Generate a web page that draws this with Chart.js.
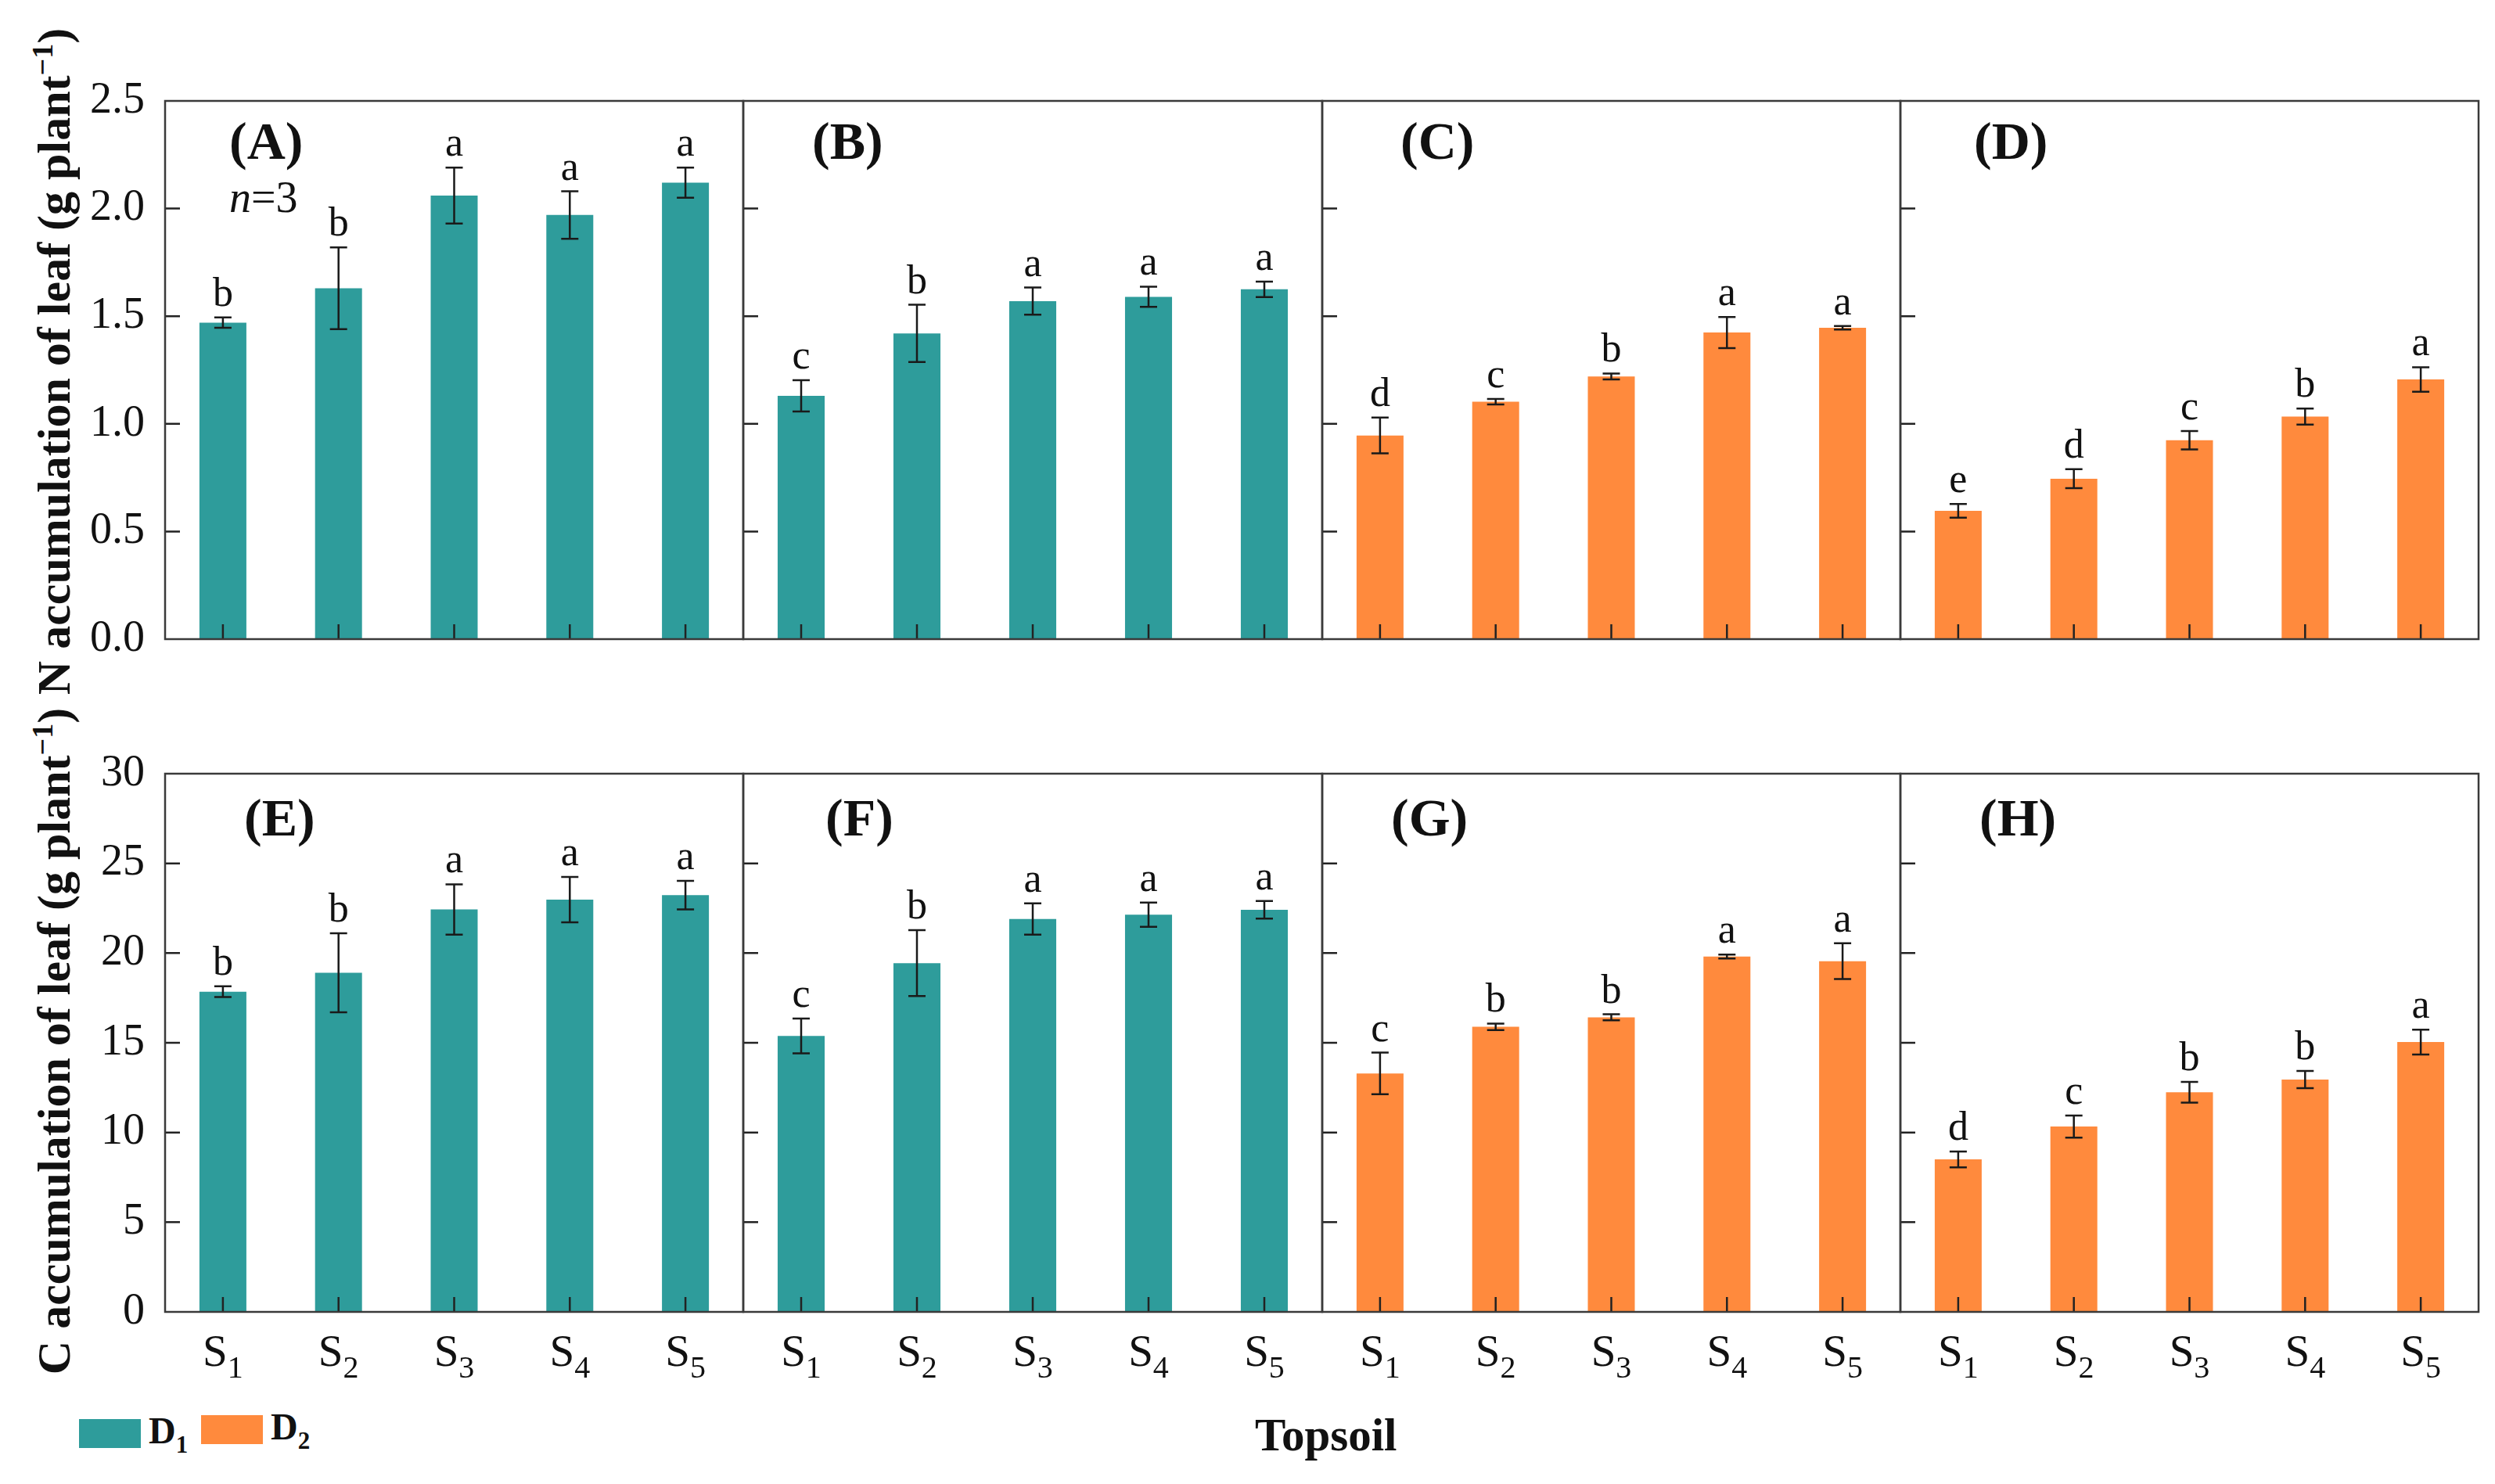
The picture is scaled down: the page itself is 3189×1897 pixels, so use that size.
<!DOCTYPE html>
<html>
<head>
<meta charset="utf-8">
<script src="https://cdn.jsdelivr.net/npm/chart.js@4.4.1/dist/chart.umd.min.js"></script>
<style>
  body { margin: 0; background: #fff; }
  #wrap { position: relative; width: 3189px; height: 1897px; background: #fff; overflow: hidden;
          font-family: "Liberation Serif", "Times New Roman", serif; color: #111; }
  #wrap canvas { position: absolute; }
  .ytitle { position: absolute; white-space: nowrap; font-weight: bold; font-size: 60px; line-height: 1;
            transform: translate(-50%, -50%) rotate(-90deg); }
  .ytitle sup { font-size: 38px; vertical-align: 0; position: relative; top: -22px; }
  .xtitle { position: absolute; font-weight: bold; font-size: 59px; line-height: 1; white-space: nowrap; }
  .box { position: absolute; }
  .leg { position: absolute; font-weight: bold; font-size: 48px; line-height: 1; white-space: nowrap; }
  .leg sub { font-size: 31px; vertical-align: 0; position: relative; top: 12px; }
</style>
</head>
<body>
<div id="wrap">
  <div class="ytitle" style="left:69px; top:462px;">N accumulation of leaf (g plant<sup>−1</sup>)</div>
  <div class="ytitle" style="left:69px; top:1331px;">C accumulation of leaf (g plant<sup>−1</sup>)</div>
  <div class="xtitle" style="left:1604px; top:1805px;">Topsoil</div>
  <div class="box" style="left:101px; top:1814px; width:79px; height:37px; background:#2e9c9b;"></div>
  <div class="leg" style="left:190px; top:1805px;">D<sub>1</sub></div>
  <div class="box" style="left:257px; top:1809px; width:79px; height:37px; background:#ff8a3d;"></div>
  <div class="leg" style="left:346px; top:1800px;">D<sub>2</sub></div>
</div>
<script>
// Topsoil treatments (x categories)
const topsoil = ["S1", "S2", "S3", "S4", "S5"];

// N accumulation of leaf (g plant-1), panels A-D
const nA = [1.47, 1.63, 2.06, 1.97, 2.12];
const nAErr = [0.024, 0.19, 0.13, 0.11, 0.07];
const nALetters = ["b", "b", "a", "a", "a"];

const nB = [1.13, 1.42, 1.57, 1.59, 1.625];
const nBErr = [0.073, 0.133, 0.063, 0.047, 0.036];
const nBLetters = ["c", "b", "a", "a", "a"];

const nC = [0.946, 1.103, 1.22, 1.424, 1.446];
const nCErr = [0.083, 0.013, 0.014, 0.072, 0.008];
const nCLetters = ["d", "c", "b", "a", "a"];

const nD = [0.596, 0.745, 0.924, 1.034, 1.206];
const nDErr = [0.032, 0.044, 0.043, 0.037, 0.057];
const nDLetters = ["e", "d", "c", "b", "a"];

// C accumulation of leaf (g plant-1), panels E-H
const cE = [17.85, 18.9, 22.43, 22.98, 23.23];
const cEErr = [0.3, 2.2, 1.4, 1.26, 0.8];
const cELetters = ["b", "b", "a", "a", "a"];

const cF = [15.38, 19.44, 21.9, 22.14, 22.41];
const cFErr = [0.97, 1.84, 0.87, 0.68, 0.49];
const cFLetters = ["c", "b", "a", "a", "a"];

const cG = [13.29, 15.89, 16.42, 19.81, 19.55];
const cGErr = [1.16, 0.18, 0.17, 0.11, 1.0];
const cGLetters = ["c", "b", "b", "a", "a"];

const cH = [8.5, 10.33, 12.24, 12.95, 15.04];
const cHErr = [0.44, 0.62, 0.58, 0.48, 0.69];
const cHLetters = ["d", "c", "b", "b", "a"];

// y axis ranges / tick steps
const nTicks = { min: 0, max: 2.5, step: 0.5 };
const cTicks = { min: 0, max: 30, step: 5 };

const TEAL = "#2e9c9b";
const ORANGE = "#ff8a3d";
const SERIF = '"Liberation Serif", "Times New Roman", serif';

// layout of the 2 x 4 grid
const gridLeft = 211, gridRight = 3168;
const rowTops = [129, 989];
const panelH = 688;
const ML = 170, MR = 40, MT = 70, MB = 110;

const panels = [
    { tag: "(A)", data: nA, err: nAErr, letters: nALetters, color: TEAL, row: 0, col: 0, axis: nTicks, lx: 82, n: true },
    { tag: "(B)", data: nB, err: nBErr, letters: nBLetters, color: TEAL, row: 0, col: 1, axis: nTicks, lx: 88 },
    { tag: "(C)", data: nC, err: nCErr, letters: nCLetters, color: ORANGE, row: 0, col: 2, axis: nTicks, lx: 100 },
    { tag: "(D)", data: nD, err: nDErr, letters: nDLetters, color: ORANGE, row: 0, col: 3, axis: nTicks, lx: 94 },
    { tag: "(E)", data: cE, err: cEErr, letters: cELetters, color: TEAL, row: 1, col: 0, axis: cTicks, lx: 101 },
    { tag: "(F)", data: cF, err: cFErr, letters: cFLetters, color: TEAL, row: 1, col: 1, axis: cTicks, lx: 105 },
    { tag: "(G)", data: cG, err: cGErr, letters: cGLetters, color: ORANGE, row: 1, col: 2, axis: cTicks, lx: 88 },
    { tag: "(H)", data: cH, err: cHErr, letters: cHLetters, color: ORANGE, row: 1, col: 3, axis: cTicks, lx: 101 },
];

// error bars, letters, inward ticks, frame, panel tag, subscript x labels
const decor = {
    id: "decor",
    afterDatasetsDraw(chart, args, opts) {
        const { ctx, chartArea: a, scales: { x, y } } = chart;
        const meta = chart.getDatasetMeta(0);
        const vals = chart.data.datasets[0].data;
        ctx.save();

        ctx.strokeStyle = "#1a1a1a";
        ctx.lineWidth = 2.5;
        ctx.fillStyle = "#111";
        ctx.font = "52px " + SERIF;
        ctx.textAlign = "center";
        ctx.textBaseline = "alphabetic";
        meta.data.forEach((bar, i) => {
            const yt = y.getPixelForValue(vals[i] + opts.err[i]);
            const yb = y.getPixelForValue(vals[i] - opts.err[i]);
            ctx.beginPath();
            ctx.moveTo(bar.x, yt); ctx.lineTo(bar.x, yb);
            ctx.moveTo(bar.x - 11, yt); ctx.lineTo(bar.x + 11, yt);
            ctx.moveTo(bar.x - 11, yb); ctx.lineTo(bar.x + 11, yb);
            ctx.stroke();
            ctx.fillText(opts.letters[i], bar.x, yt - 15);
        });

        // inward tick marks
        ctx.strokeStyle = "#222";
        ctx.beginPath();
        y.ticks.forEach(t => {
            if (t.value <= y.min || t.value >= y.max) return;
            const py = y.getPixelForValue(t.value);
            ctx.moveTo(a.left, py); ctx.lineTo(a.left + 19, py);
        });
        chart.data.labels.forEach((l, i) => {
            const px = x.getPixelForValue(i);
            ctx.moveTo(px, a.bottom); ctx.lineTo(px, a.bottom - 19);
        });
        ctx.stroke();

        // frame
        ctx.strokeStyle = "#3a3a3a";
        ctx.strokeRect(a.left, a.top, a.right - a.left, a.bottom - a.top);

        // panel tag
        ctx.textAlign = "left";
        ctx.font = "bold 68px " + SERIF;
        ctx.fillText(opts.tag, a.left + opts.lx, a.top + (opts.row === 0 ? 74 : 79));
        if (opts.n) {
            ctx.font = "italic 56px " + SERIF;
            ctx.fillText("n", a.left + 82, a.top + 142);
            const w = ctx.measureText("n").width;
            ctx.font = "56px " + SERIF;
            ctx.fillText("=3", a.left + 82 + w, a.top + 142);
        }

        // x labels with subscripts (bottom row only)
        if (opts.row === 1) {
            chart.data.labels.forEach((l, i) => {
                const px = x.getPixelForValue(i);
                ctx.font = "57px " + SERIF;
                const w1 = ctx.measureText(l[0]).width;
                ctx.font = "40px " + SERIF;
                const w2 = ctx.measureText(l.slice(1)).width;
                const sx = px - (w1 + w2) / 2;
                ctx.font = "57px " + SERIF;
                ctx.fillText(l[0], sx, a.bottom + 69);
                ctx.font = "40px " + SERIF;
                ctx.fillText(l.slice(1), sx + w1, a.bottom + 84);
            });
        }
        ctx.restore();
    }
};

const wrap = document.getElementById("wrap");
const colW = (gridRight - gridLeft) / 4;

panels.forEach(p => {
    const left = Math.round(gridLeft + p.col * colW);
    const right = Math.round(gridLeft + (p.col + 1) * colW);
    const cv = document.createElement("canvas");
    cv.width = right - left + ML + MR;
    cv.height = panelH + MT + MB;
    cv.style.left = (left - ML) + "px";
    cv.style.top = (rowTops[p.row] - MT) + "px";
    wrap.appendChild(cv);

    new Chart(cv.getContext("2d"), {
        type: "bar",
        data: {
            labels: topsoil,
            datasets: [{
                data: p.data,
                backgroundColor: p.color,
                borderWidth: 0,
                barPercentage: 0.406,
                categoryPercentage: 1.0,
            }]
        },
        options: {
            responsive: false,
            animation: false,
            devicePixelRatio: 1,
            layout: { padding: { left: 0, right: MR, top: MT, bottom: 0 } },
            plugins: {
                legend: { display: false },
                tooltip: { enabled: false },
                decor: { err: p.err, letters: p.letters, tag: p.tag, row: p.row, lx: p.lx, n: !!p.n }
            },
            scales: {
                x: {
                    grid: { display: false },
                    border: { display: false },
                    ticks: { display: false },
                    afterFit: s => { s.height = MB; }
                },
                y: {
                    min: p.axis.min,
                    max: p.axis.max,
                    grid: { display: false, drawTicks: false },
                    border: { display: false },
                    ticks: {
                        display: p.col === 0,
                        stepSize: p.axis.step,
                        padding: 26,
                        color: "#111",
                        font: { family: SERIF, size: 56, lineHeight: 1 },
                        callback: v => p.axis.step < 1 ? v.toFixed(1) : String(v)
                    },
                    afterFit: s => { s.width = ML; }
                }
            }
        },
        plugins: [decor]
    });
});
</script>
</body>
</html>
